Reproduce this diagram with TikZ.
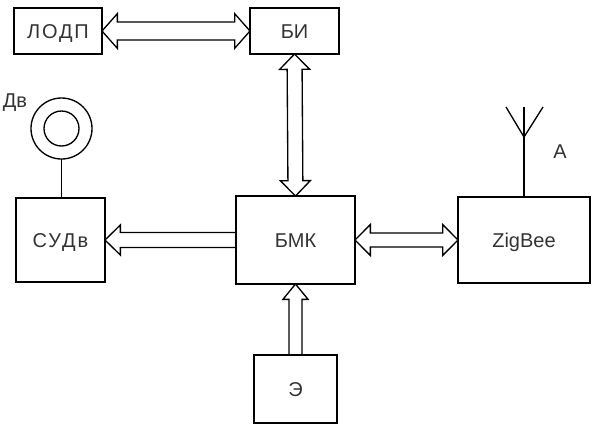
\documentclass[tikz,border=0pt]{standalone}
\usepackage{fontspec}
\setmainfont{Liberation Sans}
\usetikzlibrary{calc}
\tikzset{
  block/.style={draw, line width=1pt, inner sep=0pt, outer sep=0pt, text=black!80, text height=10.7pt, text depth=0pt, font=\fontsize{15}{18}\selectfont},
  busline/.style={line width=1pt, line join=miter},
  wire/.style={line width=1pt},
  lbl/.style={inner sep=0pt, text=black!80, font=\fontsize{15}{18}\selectfont}
}
% hollow bus, head at #2 and flat end at #1; #3 half shaft, #4 half head
\newcommand{\busone}[4]{\draw[busline] let \p1=($(#1)-(#2)$), \n1={atan2(\y1,\x1)}, \n2={veclen(\x1,\y1)} in
  [shift={(#2)},rotate=\n1] (\n2,#3) -- (11.5pt,#3) -- (11.5pt,#4) -- (0,0) -- (11.5pt,-#4) -- (11.5pt,-#3) -- (\n2,-#3);}
% hollow bus, heads at both ends
\newcommand{\busboth}[4]{\draw[busline] let \p1=($(#1)-(#2)$), \n1={atan2(\y1,\x1)}, \n2={veclen(\x1,\y1)} in
  [shift={(#2)},rotate=\n1] (11.5pt,#3) -- (11.5pt,#4) -- (0,0) -- (11.5pt,-#4) -- (11.5pt,-#3)
  -- (\n2-11.5pt,-#3) -- (\n2-11.5pt,-#4) -- (\n2,0) -- (\n2-11.5pt,#4) -- (\n2-11.5pt,#3) -- cycle;}
\begin{document}
\begin{tikzpicture}[x=0.75pt,y=-0.75pt]
  \useasboundingbox (0,0) rectangle (598,430);
  % blocks
  \node[block, minimum width=66pt, minimum height=34.5pt] (lodp) at (58,31) {\addfontfeature{LetterSpace=9}ЛОДП};
  \node[block, minimum width=66.75pt, minimum height=34.5pt] (bi) at (294.5,31) {БИ};
  \node[block, minimum width=66.75pt, minimum height=63pt] (sudv) at (60.5,240) {\addfontfeature{LetterSpace=10}СУДв};
  \node[block, minimum width=89.25pt, minimum height=66pt] (bmk) at (295.5,240) {БМК};
  \node[block, minimum width=99pt, minimum height=64.5pt] (zigbee) at (524,240) {ZigBee};
  \node[block, minimum width=62.25pt, minimum height=51pt] (e) at (295.5,389) {Э};
  % motor
  \node[draw, circle, wire, inner sep=0pt, outer sep=0pt, minimum size=45.75pt] (dvout) at (61.5,128.5) {};
  \node[draw, circle, wire, inner sep=0pt, outer sep=0pt, minimum size=26.25pt] (dvin) at (61.5,128.5) {};
  \node[lbl] (dv) at (15,103) {Дв};
  \draw[wire] (dvout.south) -- (dvout.south |- sudv.north);
  % antenna
  \coordinate (antfoot) at (524,137);
  \coordinate (antl) at (506,107);
  \coordinate (antm) at (524,107);
  \coordinate (antr) at (543,107);
  \draw[wire] (zigbee.north) -- (antfoot);
  \draw[wire] (antl) -- (antfoot) -- (antr);
  \draw[wire] (antm) -- (antfoot);
  \node[lbl] (a) at (560,152) {А};
  % buses
  \busboth{lodp.east}{bi.west}{6.75pt}{13pt}
  \busboth{bi.south}{bmk.north}{5.6pt}{11.25pt}
  \busboth{bmk.east}{zigbee.west}{5.25pt}{11.6pt}
  \busone{bmk.west}{sudv.east}{5.6pt}{11.25pt}
  \busone{e.north}{bmk.south}{4.9pt}{9.4pt}
\end{tikzpicture}
\end{document}
